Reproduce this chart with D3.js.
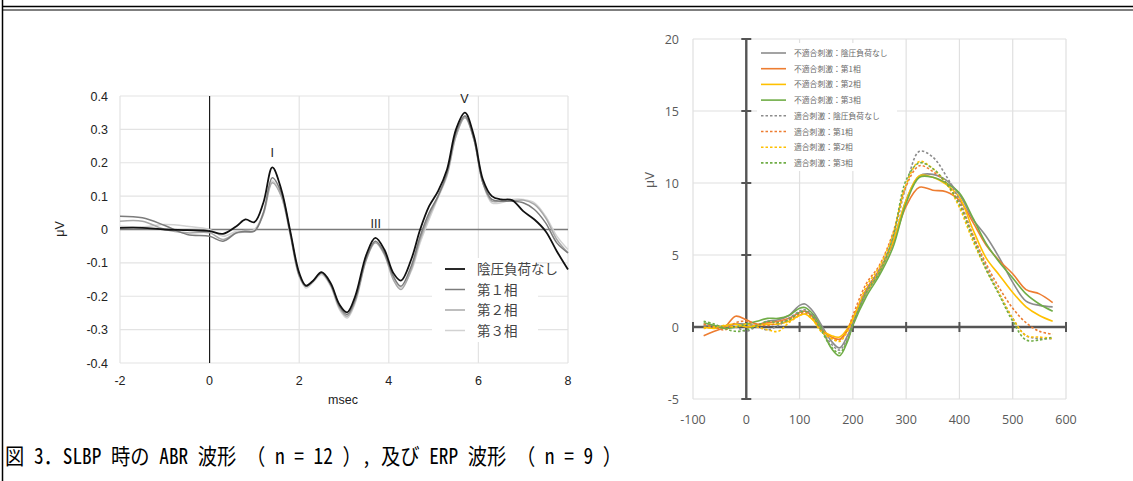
<!DOCTYPE html>
<html>
<head>
<meta charset="utf-8">
<script src="https://cdn.jsdelivr.net/npm/d3@7"></script>
<style>
body { margin:0; background:#fff; }
</style>
</head>
<body>
<div class="segment"></div>
<script>
// ABR waveforms (msec / uV)
var abrTime = [-2,-1.5,-1,-0.5,0,0.3,0.6,0.8,1.0,1.2,1.4,1.6,1.8,2.0,2.15,2.3,2.5,2.7,2.9,3.07,3.25,3.5,3.7,3.9,4.1,4.27,4.5,4.7,4.9,5.1,5.3,5.5,5.7,5.9,6.1,6.3,6.5,6.75,7.0,7.25,7.5,7.75,8.0];
var abrNames = ["陰圧負荷なし","第１相","第２相","第３相"];
var abrNone = [0.005,0.005,0.0,-0.002,-0.005,-0.013,0.01,0.03,0.022,0.08,0.186,0.12,-0.005,-0.13,-0.168,-0.155,-0.128,-0.16,-0.225,-0.248,-0.2,-0.075,-0.025,-0.06,-0.13,-0.153,-0.09,0.0,0.07,0.115,0.18,0.3,0.35,0.28,0.15,0.1,0.09,0.088,0.055,0.03,-0.005,-0.065,-0.12];
var abrPh1 = [0.04,0.035,0.012,-0.015,-0.02,-0.035,-0.01,-0.005,-0.005,0.05,0.155,0.11,-0.01,-0.135,-0.17,-0.155,-0.13,-0.165,-0.23,-0.255,-0.21,-0.085,-0.035,-0.07,-0.14,-0.17,-0.11,-0.02,0.05,0.1,0.17,0.29,0.34,0.27,0.14,0.09,0.085,0.085,0.08,0.06,0.02,-0.04,-0.07];
var abrPh2 = [0.025,0.025,0.0,-0.01,-0.01,-0.03,-0.01,-0.008,-0.005,0.045,0.14,0.1,-0.015,-0.14,-0.17,-0.155,-0.13,-0.165,-0.235,-0.26,-0.215,-0.09,-0.04,-0.075,-0.15,-0.18,-0.12,-0.03,0.04,0.1,0.165,0.28,0.335,0.27,0.14,0.085,0.085,0.085,0.088,0.075,0.035,-0.03,-0.07];
var abrPh3 = [0.01,0.008,0.015,0.01,0.0,-0.02,-0.005,-0.003,0.0,0.05,0.145,0.1,-0.015,-0.14,-0.175,-0.16,-0.135,-0.17,-0.24,-0.265,-0.22,-0.09,-0.035,-0.07,-0.14,-0.175,-0.125,-0.04,0.03,0.095,0.16,0.28,0.34,0.275,0.14,0.08,0.08,0.09,0.09,0.08,0.04,-0.02,-0.06];
var abrXTicks = [-2,0,2,4,6,8];
var abrYTicks = [0.4,0.3,0.2,0.1,0,-0.1,-0.2,-0.3,-0.4];
var abrPeaks = [{t:1.4,v:0.186,label:"I"},{t:3.71,v:-0.025,label:"III"},{t:5.69,v:0.35,label:"V"}];

// ERP waveforms (ms / uV)
var erpTime = [-80,-60,-40,-20,0,20,40,60,80,100,110,125,140,160,175,190,200,225,250,275,300,325,350,375,400,425,450,475,500,525,550,575];
var erpNames = ["不適合刺激：陰圧負荷なし","不適合刺激：第1相","不適合刺激：第2相","不適合刺激：第3相","適合刺激：陰圧負荷なし","適合刺激：第1相","適合刺激：第2相","適合刺激：第3相"];
var erpOddNone = [0.1,0.1,0.0,0.2,0.2,0.1,0.4,0.5,0.8,1.5,1.6,1.1,0.2,-1.0,-1.45,-0.6,0.3,2.3,3.8,5.8,8.8,10.5,10.6,10.2,9.2,7.5,6.3,4.8,3.1,1.8,1.5,1.4];
var erpOddPh1 = [-0.6,-0.3,0.0,0.75,0.5,0.2,0.3,0.4,0.6,1.0,1.1,0.7,-0.1,-0.7,-0.85,-0.2,0.6,2.6,4.0,5.8,8.4,9.7,9.5,9.4,8.8,7.3,5.7,4.6,3.7,2.6,2.3,1.7];
var erpOddPh2 = [0.0,-0.1,0.1,0.2,0.0,0.1,0.2,0.2,0.4,0.8,0.9,0.5,-0.2,-0.6,-0.7,-0.1,0.6,2.4,3.9,5.9,8.8,10.5,10.4,9.9,9.0,6.8,4.8,3.6,2.4,1.4,0.8,0.4];
var erpOddPh3 = [0.3,0.1,-0.1,0.0,0.2,0.4,0.6,0.6,0.8,1.3,1.35,0.9,0.0,-1.5,-2.0,-1.0,0.1,2.1,3.6,5.5,8.6,10.4,10.4,10.0,9.3,7.6,5.8,4.5,3.4,2.3,1.6,1.1];
var erpStdNone = [0.1,0.0,0.1,0.0,-0.3,0.0,-0.2,0.1,0.6,1.1,1.2,0.8,-0.1,-1.2,-1.6,-0.8,0.2,2.5,4.0,6.2,9.8,12.2,11.8,10.5,8.8,6.4,4.2,2.3,0.6,-0.6,-0.8,-0.8];
var erpStdPh1 = [0.2,0.0,-0.2,0.3,0.4,0.2,0.1,0.3,0.5,0.9,1.0,0.6,-0.2,-0.8,-0.9,-0.2,0.8,3.0,4.3,6.5,9.8,11.2,10.8,10.0,8.6,6.4,4.4,2.7,1.3,0.3,-0.3,-0.5];
var erpStdPh2 = [-0.1,0.0,0.1,0.0,0.2,0.0,-0.2,-0.3,0.3,0.8,0.9,0.5,-0.3,-0.8,-1.0,-0.3,0.5,2.8,4.2,6.4,9.9,11.5,11.0,10.0,8.3,6.0,4.0,2.3,0.6,-0.6,-0.7,-0.8];
var erpStdPh3 = [0.4,0.2,-0.1,-0.3,-0.2,0.1,0.4,0.3,0.5,1.0,1.1,0.7,-0.2,-1.4,-1.8,-0.9,0.2,2.4,3.8,6.2,10.2,11.4,11.0,10.0,8.5,6.2,4.0,2.2,0.4,-0.9,-0.9,-0.7];
var erpXTicks = [-100,0,100,200,300,400,500,600];
var erpYTicks = [20,15,10,5,0,-5];

var captionText = "図 3．SLBP 時の ABR 波形 （ n = 12 ）, 及び ERP 波形 （ n = 9 ）";

var width = 1133, height = 481;

var svg1 = d3.select(".segment")
  .append("svg")
  .attr("width", width)
  .attr("height", height)
  .style("display", "block");

svg1.append("rect").attr("width", width).attr("height", height).attr("fill", "#fff");

// frame lines
svg1.append("line").attr("x1", 2.5).attr("x2", 2.5).attr("y1", 0).attr("y2", height)
  .attr("stroke", "#000").attr("stroke-width", 1.5);
svg1.append("line").attr("x1", 2).attr("x2", width).attr("y1", 6.5).attr("y2", 6.5)
  .attr("stroke", "#000").attr("stroke-width", 1.5);
svg1.append("line").attr("x1", 2).attr("x2", width).attr("y1", 10).attr("y2", 10)
  .attr("stroke", "#000").attr("stroke-width", 1);

// ---------- left chart: ABR ----------
var xA = d3.scaleLinear().domain([-2, 8]).range([120, 568]);
var yA = d3.scaleLinear().domain([-0.4, 0.4]).range([363, 96]);
var gA = svg1.append("g");

gA.selectAll(".gy").data(abrYTicks).enter().append("line")
  .attr("x1", xA(-2)).attr("x2", xA(8))
  .attr("y1", function(d) { return yA(d); }).attr("y2", function(d) { return yA(d); })
  .attr("stroke", "#e3e3e3").attr("stroke-width", 1.2);
gA.selectAll(".gx").data(abrXTicks).enter().append("line")
  .attr("x1", function(d) { return xA(d); }).attr("x2", function(d) { return xA(d); })
  .attr("y1", yA(0.4)).attr("y2", yA(-0.4))
  .attr("stroke", "#e3e3e3").attr("stroke-width", 1.2);

gA.selectAll(".ty").data(abrYTicks).enter().append("text")
  .attr("x", 108).attr("y", function(d) { return yA(d) + 4.5; })
  .attr("text-anchor", "end")
  .style("font", "12.5px 'Liberation Sans', Arial, sans-serif").attr("fill", "#222")
  .text(function(d) { return d === 0 ? "0" : d3.format(".1f")(d).replace("−", "-"); });
gA.selectAll(".tx").data(abrXTicks).enter().append("text")
  .attr("x", function(d) { return xA(d); }).attr("y", 385)
  .attr("text-anchor", "middle")
  .style("font", "12.5px 'Liberation Sans', Arial, sans-serif").attr("fill", "#222")
  .text(function(d) { return String(d); });

gA.append("text").attr("x", 343).attr("y", 404).attr("text-anchor", "middle")
  .style("font", "12.5px 'Liberation Sans', Arial, sans-serif").attr("fill", "#222").text("msec");
gA.append("text").attr("transform", "translate(64,229) rotate(-90)").attr("text-anchor", "middle")
  .style("font", "12.5px 'Liberation Sans', Arial, sans-serif").attr("fill", "#222").text("μV");

// zero lines
gA.append("line").attr("x1", xA(-2)).attr("x2", xA(8)).attr("y1", yA(0)).attr("y2", yA(0))
  .attr("stroke", "#7a7a7a").attr("stroke-width", 1.6);
gA.append("line").attr("x1", xA(0)).attr("x2", xA(0)).attr("y1", yA(0.4)).attr("y2", yA(-0.4))
  .attr("stroke", "#111").attr("stroke-width", 1.1);

var abrSeries = [
  { name: abrNames[0], values: abrNone, color: "#111", w: 1.8 },
  { name: abrNames[1], values: abrPh1, color: "#7c7c7c", w: 1.5 },
  { name: abrNames[2], values: abrPh2, color: "#a8a8a8", w: 1.5 },
  { name: abrNames[3], values: abrPh3, color: "#d2d2d2", w: 1.5 }
];
var lineA = d3.line()
  .x(function(d, i) { return xA(abrTime[i]); })
  .y(function(d) { return yA(d); })
  .curve(d3.curveCatmullRom.alpha(0.5));

// legend box (drawn before lines so lines stay on top of it at the right edge)
gA.append("rect").attr("x", 432).attr("y", 258).attr("width", 106).attr("height", 84).attr("fill", "#fff");

gA.selectAll(".abr").data(abrSeries.slice().reverse()).enter().append("path")
  .attr("d", function(d) { return lineA(d.values); })
  .attr("fill", "none")
  .attr("stroke", function(d) { return d.color; })
  .attr("stroke-width", function(d) { return d.w; });

gA.selectAll(".pk").data(abrPeaks).enter().append("text")
  .attr("x", function(d) { return xA(d.t); })
  .attr("y", function(d) { return yA(d.v) - 10; })
  .attr("text-anchor", "middle")
  .style("font", "12.5px 'Liberation Sans', Arial, sans-serif").attr("fill", "#222")
  .text(function(d) { return d.label; });

var legA = gA.selectAll(".legA").data(abrSeries).enter().append("g")
  .attr("transform", function(d, i) { return "translate(445," + (269 + i * 20.5) + ")"; });
legA.append("line").attr("x1", 0).attr("x2", 20).attr("y1", 0).attr("y2", 0)
  .attr("stroke", function(d) { return d.color; }).attr("stroke-width", function(d) { return d.w; });
legA.append("text").attr("x", 32).attr("y", 5)
  .style("font", "13.5px 'Noto Sans CJK JP', sans-serif").attr("fill", "#444")
  .text(function(d) { return d.name; });

// ---------- right chart: ERP ----------
var xE = d3.scaleLinear().domain([-100, 600]).range([693, 1066]);
var yE = d3.scaleLinear().domain([-5, 20]).range([399, 39]);
var gE = svg1.append("g");

gE.selectAll(".gy").data(erpYTicks).enter().append("line")
  .attr("x1", xE(-100)).attr("x2", xE(600))
  .attr("y1", function(d) { return yE(d); }).attr("y2", function(d) { return yE(d); })
  .attr("stroke", "#e0e0e0").attr("stroke-width", 1.2);
gE.selectAll(".gx").data(erpXTicks).enter().append("line")
  .attr("x1", function(d) { return xE(d); }).attr("x2", function(d) { return xE(d); })
  .attr("y1", yE(20)).attr("y2", yE(-5))
  .attr("stroke", "#e0e0e0").attr("stroke-width", 1.2);

gE.selectAll(".ty").data(erpYTicks).enter().append("text")
  .attr("x", 679).attr("y", function(d) { return yE(d) + 5; })
  .attr("text-anchor", "end")
  .style("font", "12.5px 'Open Sans', sans-serif").attr("fill", "#595959")
  .text(function(d) { return String(d); });
gE.selectAll(".tx").data(erpXTicks).enter().append("text")
  .attr("x", function(d) { return xE(d); }).attr("y", 424)
  .attr("text-anchor", "middle")
  .style("font", "12.5px 'Open Sans', sans-serif").attr("fill", "#595959")
  .text(function(d) { return String(d); });
gE.append("text").attr("transform", "translate(654,180) rotate(-90)").attr("text-anchor", "middle")
  .style("font", "13px 'Open Sans', sans-serif").attr("fill", "#595959").text("μV");

// legend background
gE.append("rect").attr("x", 757).attr("y", 43).attr("width", 140).attr("height", 128).attr("fill", "#fff");

// axes with cross ticks
gE.append("line").attr("x1", xE(0)).attr("x2", xE(0)).attr("y1", yE(20)).attr("y2", yE(-5))
  .attr("stroke", "#555").attr("stroke-width", 2.4);
gE.append("line").attr("x1", xE(-100)).attr("x2", xE(600)).attr("y1", yE(0)).attr("y2", yE(0))
  .attr("stroke", "#555").attr("stroke-width", 2.4);
gE.selectAll(".tky").data(erpYTicks).enter().append("line")
  .attr("x1", xE(0) - 5).attr("x2", xE(0) + 5)
  .attr("y1", function(d) { return yE(d); }).attr("y2", function(d) { return yE(d); })
  .attr("stroke", "#555").attr("stroke-width", 2);
gE.selectAll(".tkx").data(erpXTicks).enter().append("line")
  .attr("x1", function(d) { return xE(d); }).attr("x2", function(d) { return xE(d); })
  .attr("y1", yE(0) - 5).attr("y2", yE(0) + 5)
  .attr("stroke", "#555").attr("stroke-width", 2);

var erpColors = ["#8c8c8c", "#ED7D31", "#FFC000", "#70AD47"];
var erpSeries = [
  { name: erpNames[0], values: erpOddNone, color: erpColors[0], dash: null },
  { name: erpNames[1], values: erpOddPh1, color: erpColors[1], dash: null },
  { name: erpNames[2], values: erpOddPh2, color: erpColors[2], dash: null },
  { name: erpNames[3], values: erpOddPh3, color: erpColors[3], dash: null },
  { name: erpNames[4], values: erpStdNone, color: erpColors[0], dash: "2.5,2" },
  { name: erpNames[5], values: erpStdPh1, color: erpColors[1], dash: "2.5,2" },
  { name: erpNames[6], values: erpStdPh2, color: erpColors[2], dash: "2.5,2" },
  { name: erpNames[7], values: erpStdPh3, color: erpColors[3], dash: "2.5,2" }
];
var lineE = d3.line()
  .x(function(d, i) { return xE(erpTime[i]); })
  .y(function(d) { return yE(d); })
  .curve(d3.curveCatmullRom.alpha(0.5));

gE.selectAll(".erp").data(erpSeries).enter().append("path")
  .attr("d", function(d) { return lineE(d.values); })
  .attr("fill", "none")
  .attr("stroke", function(d) { return d.color; })
  .attr("stroke-width", 1.6)
  .attr("stroke-dasharray", function(d) { return d.dash; });

var legE = gE.selectAll(".legE").data(erpSeries).enter().append("g")
  .attr("transform", function(d, i) { return "translate(761," + (53 + i * 15.7) + ")"; });
legE.append("line").attr("x1", 0).attr("x2", 25).attr("y1", 0).attr("y2", 0)
  .attr("stroke", function(d) { return d.color; }).attr("stroke-width", 1.6)
  .attr("stroke-dasharray", function(d) { return d.dash; });
legE.append("text").attr("x", 33).attr("y", 3)
  .style("font", "7.8px 'Noto Sans CJK JP', sans-serif").attr("fill", "#6a6a6a")
  .text(function(d) { return d.name; });

// ---------- caption ----------
svg1.append("text").attr("x", 5).attr("y", 464)
  .attr("textLength", 617).attr("lengthAdjust", "spacingAndGlyphs")
  .style("font", "22px 'Noto Sans Mono CJK JP', 'Noto Sans CJK JP', sans-serif").attr("fill", "#000")
  .text(captionText);
</script>
</body>
</html>
